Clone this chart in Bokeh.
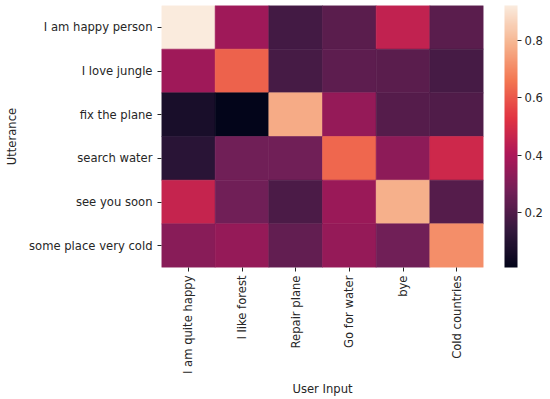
import math
import numpy as np
from bokeh.plotting import figure
from bokeh.models import ColumnDataSource, LinearColorMapper, ColorBar, FixedTicker, FactorRange
from bokeh.transform import transform
from bokeh.embed import file_html
from bokeh.resources import INLINE

utterances = ["I am happy person", "I love jungle", "fix the plane",
              "search water", "see you soon", "some place very cold"]
user_inputs = ["I am quite happy", "I like forest", "Repair plane",
               "Go for water", "bye", "Cold countries"]

row_happy = [0.92, 0.37, 0.17, 0.22, 0.45, 0.22]
row_jungle = [0.37, 0.62, 0.18, 0.23, 0.22, 0.18]
row_plane = [0.07, 0.01, 0.77, 0.35, 0.21, 0.20]
row_water = [0.11, 0.27, 0.27, 0.63, 0.33, 0.48]
row_soon = [0.46, 0.27, 0.19, 0.36, 0.78, 0.21]
row_cold = [0.32, 0.35, 0.24, 0.35, 0.27, 0.71]
rows = [row_happy, row_jungle, row_plane, row_water, row_soon, row_cold]

cbar_ticks = [0.2, 0.4, 0.6, 0.8]
vmin, vmax = 0.01, 0.92

# rocket-like palette built from anchor colours
anchors = ["#03051A", "#35193E", "#701F57", "#AD1759", "#E13342",
           "#F37651", "#F6B48F", "#FAEBDD"]
pos = np.linspace(0, 1, len(anchors))
rgb = np.array([[int(h[i:i + 2], 16) for i in (1, 3, 5)] for h in anchors], float)
palette = []
for t in np.linspace(0, 1, 256):
    c = [np.interp(t, pos, rgb[:, k]) for k in range(3)]
    palette.append("#%02x%02x%02x" % tuple(int(round(v)) for v in c))

xs, ys, vs = [], [], []
for u, row in zip(utterances, rows):
    for ui, v in zip(user_inputs, row):
        xs.append(ui)
        ys.append(u)
        vs.append(v)
src = ColumnDataSource(dict(x=xs, y=ys, v=vs))

mapper = LinearColorMapper(palette=palette, low=vmin, high=vmax)

W, H = 550, 399
left, right, top, bottom = 161, 67, 5, 132
frame_w = W - left - right
frame_h = H - top - bottom

p = figure(width=W, height=H, output_backend="svg", toolbar_location=None,
           x_range=FactorRange(*user_inputs),
           y_range=FactorRange(*list(reversed(utterances))),
           min_border_left=left, min_border_right=right, min_border_top=top,
           min_border_bottom=bottom)
p.outline_line_color = None
p.grid.visible = False

p.rect(x="x", y="y", width=1, height=1, source=src,
       fill_color=transform("v", mapper), line_color=transform("v", mapper),
       line_width=0.6)

txt = "#262626"
FS = "11.6px"
for ax in (p.xaxis[0], p.yaxis[0]):
    ax.axis_line_color = None
    ax.major_tick_in = 0
    ax.major_tick_out = 4
    ax.major_tick_line_color = txt
    ax.minor_tick_line_color = None
    ax.major_label_text_font = "DejaVu Sans"
    ax.major_label_text_font_size = FS
    ax.major_label_text_color = txt
    ax.axis_label_text_font = "DejaVu Sans"
    ax.axis_label_text_font_size = FS
    ax.axis_label_text_font_style = "normal"
    ax.axis_label_text_color = txt

p.xaxis.axis_label = "User Input"
p.yaxis.axis_label = "Utterance"
p.xaxis.major_label_orientation = math.pi / 2
p.xaxis.major_label_standoff = 4
p.yaxis.major_label_standoff = 5
p.xaxis.axis_label_standoff = 5
p.yaxis.axis_label_standoff = 7

cb = ColorBar(color_mapper=mapper, width=13, height=frame_h, padding=0, margin=0,
              location=(frame_w + 21, 0),
              ticker=FixedTicker(ticks=cbar_ticks),
              major_tick_in=0, major_tick_out=4, major_tick_line_color=txt,
              minor_tick_line_color=None,
              major_label_text_font="DejaVu Sans",
              major_label_text_font_size=FS,
              major_label_text_color=txt, label_standoff=3,
              bar_line_color=None, border_line_color=None,
              background_fill_color=None)
p.add_layout(cb, "center")

open("out.html", "w").write(file_html(p, INLINE))
